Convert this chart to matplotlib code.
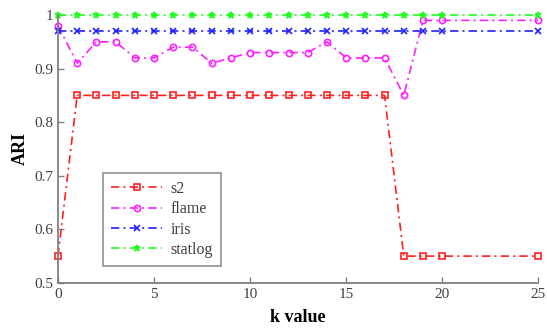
import matplotlib
matplotlib.use("Agg")
import matplotlib.pyplot as plt

plt.rcParams['font.family'] = ['Liberation Serif', 'DejaVu Serif']

k_values = [0, 1, 2, 3, 4, 5, 6, 7, 8, 9, 10, 11, 12, 13, 14, 15, 16, 17, 18, 19, 20, 25]
s2 = [0.55] + [0.85] * 17 + [0.55, 0.55, 0.55, 0.55]
flame = [0.98, 0.91, 0.95, 0.95, 0.92, 0.92, 0.94, 0.94, 0.91, 0.92, 0.93,
         0.93, 0.93, 0.93, 0.95, 0.92, 0.92, 0.92, 0.85, 0.99, 0.99, 0.99]
iris = [0.97] * 22
statlog = [1.0] * 22

series = [
    ("s2", s2, "#ff2020", "s"),
    ("flame", flame, "#ff20ff", "o"),
    ("iris", iris, "#2020ff", "x"),
    ("statlog", statlog, "#20ff20", "*"),
]

fig = plt.figure(figsize=(5.47, 3.34), dpi=100)
ax = fig.add_axes([0.106, 0.153, 0.878, 0.802])

for name, vals, color, marker in series:
    ax.plot(k_values, vals, linestyle=(0, (5, 2.5, 1.2, 2.5)), color=color,
            marker=marker, markersize=4.5, markerfacecolor='none',
            markeredgewidth=1.2, linewidth=1.2, label=name, clip_on=False)

ax.set_xlim(0, 25)
ax.set_ylim(0.5, 1.0)
ax.set_xticks([0, 5, 10, 15, 20, 25])
ax.set_yticks([0.5, 0.6, 0.7, 0.8, 0.9, 1.0])
ax.set_yticklabels(['0.5', '0.6', '0.7', '0.8', '0.9', '1'])

for side in ('top', 'right'):
    ax.spines[side].set_visible(False)
for side in ('left', 'bottom'):
    ax.spines[side].set_color('#808080')
    ax.spines[side].set_linewidth(1.3)

ax.tick_params(direction='in', length=4, width=1, colors='#808080',
               labelcolor='#404040', labelsize=11)

ax.set_xlabel('k value', fontsize=13, fontweight='bold', labelpad=6)
ax.set_ylabel('ARI', fontsize=13, fontweight='bold', labelpad=4)

leg = ax.legend(loc='lower left', bbox_to_anchor=(0.094, 0.063), borderaxespad=0,
                fontsize=11.5, frameon=True, fancybox=False, edgecolor='#808080',
                handlelength=3.2, handletextpad=0.5, borderpad=0.5,
                labelspacing=0.28)
leg.get_frame().set_linewidth(1.3)
for t in leg.get_texts():
    t.set_color('#404040')

fig.savefig('out.png', dpi=100)
